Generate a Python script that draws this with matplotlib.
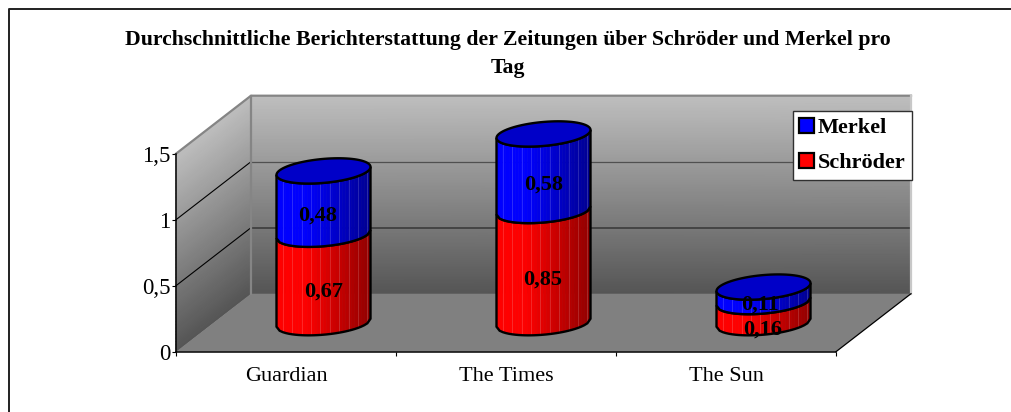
"""Durchschnittliche Berichterstattung, gestapelte Zylinder in Pseudo-3D"""

import matplotlib
matplotlib.use('Agg')
import matplotlib.pyplot as plt
import numpy as np
from matplotlib.lines import Line2D
from matplotlib.patches import Patch, Polygon

plt.rcParams['font.family'] = ['Liberation Serif', 'DejaVu Serif']

categories = ['Guardian', 'The Times', 'The Sun']
schroeder = [0.67, 0.85, 0.16]
merkel = [0.48, 0.58, 0.11]
schroeder_labels = ['0,67', '0,85', '0,16']
merkel_labels = ['0,48', '0,58', '0,11']
y_ticks = [0, 0.5, 1, 1.5]
y_tick_labels = ['0', '0,5', '1', '1,5']
title = ('Durchschnittliche Berichterstattung der Zeitungen über Schröder '
	'und Merkel pro\nTag')

W, H = 1011, 412
DX = 75 / 220  # Tiefe in Datenkoordinaten
DY = 58 / 132
RX = 47 / 220  # Radius der Zylinder
RY = 12 / 132
SHEAR = 4 / 132
YMAX = 1.5


def draw_walls(ax):
	gray = matplotlib.colormaps['gray']
	v = np.linspace(0, 1, 60)
	shade = 85 + (190 - 85) * v
	c = np.vstack([shade, shade]).T / 255

	# Rueckwand
	X, Y = np.meshgrid([DX, 3 + DX], DY + v * YMAX)
	ax.pcolormesh(X, Y, c, cmap=gray, vmin=0, vmax=1, shading='gouraud', zorder=1, clip_on=False)
	# Seitenwand links
	X = np.array([np.zeros_like(v), np.full_like(v, DX)]).T
	Y = np.array([v * YMAX, DY + v * YMAX]).T
	ax.pcolormesh(X, Y, c, cmap=gray, vmin=0, vmax=1, shading='gouraud', zorder=1, clip_on=False)
	# Boden
	ax.add_patch(Polygon([(0, 0), (3, 0), (3 + DX, DY), (DX, DY)], closed=True,
		facecolor='#808080', edgecolor='none', zorder=2, clip_on=False))

	# Gitterlinien
	for val, col, lw in [(0.5, '#404040', 1.3), (1, '#505050', 0.9)]:
		ax.plot([0, DX], [val, val + DY], color='k', lw=0.8, zorder=3, clip_on=False)
		ax.plot([DX, 3 + DX], [val + DY, val + DY], color=col, lw=lw, zorder=3, clip_on=False)

	# Rahmen der Waende
	ax.plot([0, DX, 3 + DX], [YMAX, YMAX + DY, YMAX + DY], color='#858585',
		lw=1.6, zorder=3, clip_on=False)
	ax.plot([3 + DX, 3 + DX], [YMAX + DY, DY], color='#c8c8c8', lw=1.6, zorder=3, clip_on=False)
	ax.plot([DX, DX], [DY, YMAX + DY], color='#858585', lw=1.6, zorder=3, clip_on=False)
	ax.plot([3, 3 + DX], [0, DY], color='k', lw=0.9, zorder=3, clip_on=False)


def ellipse(cx, cy, t):
	return cx + RX * np.cos(t), cy + SHEAR * np.cos(t) + RY * np.sin(t)


def draw_segment(ax, cx, y0, y1, rgb, top_col, z):
	"""Ein Zylinderstueck von y0 bis y1, links hell, rechts dunkel"""
	t = np.pi + np.arccos(np.linspace(1, -1, 31))
	xb, yb = ellipse(cx, y0, t)
	xt, yt = ellipse(cx, y1, t)
	for i in range(len(t) - 1):
		k = i / (len(t) - 2)
		f = 1 if k < 0.3 else 1 - 0.42 * (k - 0.3) / 0.7
		col = (rgb[0] * f, rgb[1] * f, rgb[2] * f)
		ax.fill([xb[i], xb[i + 1], xt[i + 1], xt[i]], [yb[i], yb[i + 1], yt[i + 1], yt[i]],
			facecolor=col, edgecolor=col, lw=0.4, zorder=z, clip_on=False)
		if i % 3 == 2:
			ax.plot([xb[i], xt[i]], [yb[i], yt[i]], color='w', alpha=0.18, lw=0.6,
				zorder=z + 0.01, clip_on=False)
	outline = np.r_[xb, xt[::-1]], np.r_[yb, yt[::-1]]
	ax.add_patch(Polygon(np.c_[outline], closed=True, fill=False, edgecolor='k', lw=1.7,
		zorder=z + 0.1, clip_on=False))
	if top_col is not None:
		tt = np.linspace(0, 2 * np.pi, 90)
		xe, ye = ellipse(cx, y1, tt)
		ax.add_patch(Polygon(np.c_[xe, ye], closed=True, facecolor=top_col, edgecolor='k',
			lw=1.7, zorder=z + 0.2, clip_on=False))


fig = plt.figure(figsize=(W / 100, H / 100), dpi=100, facecolor='white')
fig.add_artist(Line2D([9 / W, 9 / W, 1], [0, 1 - 9 / H, 1 - 9 / H], transform=fig.transFigure,
	color='#202020', lw=1.4))
fig.text(508 / W, 1 - 54 / H, title, ha='center', va='center', fontsize=15.7, fontweight='bold',
	linespacing=1.52)

ax = fig.add_axes([176 / W, (H - 351.7) / H, 660 / W, 198 / H])
ax.set_xlim(0, 3)
ax.set_ylim(0, YMAX)
ax.patch.set_visible(False)
for s in ['top', 'right']:
	ax.spines[s].set_visible(False)
for s in ['left', 'bottom']:
	ax.spines[s].set_linewidth(1.1)
	ax.spines[s].set_zorder(6)

ax.set_yticks(y_ticks)
ax.set_yticklabels(y_tick_labels, fontsize=16.5)
ax.set_xticks(range(4))
ax.set_xticklabels([])
ax.set_xticks(np.arange(3) + 0.5, labels=categories, minor=True, fontsize=16)
ax.tick_params(axis='x', which='minor', length=0, pad=11)
ax.tick_params(axis='both', which='major', length=3, width=0.8, pad=1)

draw_walls(ax)

label_offsets_s = [(0, -13.5), (-1, -12.5), (-1, -17)]
label_offsets_m = [(-6, -13.5), (0, -12.5), (-4, -10)]
base = DY / 2
for i in range(3):
	cx = i + 0.5 + DX / 2
	top_s = base + schroeder[i]
	top_m = top_s + merkel[i]
	draw_segment(ax, cx, base, top_s, (1, 0, 0), None, 4 + i)
	draw_segment(ax, cx, top_s, top_m, (0, 0, 1), '#0000c8', 4.3 + i)
	for val0, val1, txt, off in [(base, top_s, schroeder_labels[i], label_offsets_s[i]),
			(top_s, top_m, merkel_labels[i], label_offsets_m[i])]:
		ax.annotate(txt, (cx, (val0 + val1) / 2), xytext=off, textcoords='offset pixels',
			ha='center', va='center', fontsize=16, fontweight='bold', color='k', zorder=9)

handles = [Patch(facecolor='#0000ff', edgecolor='k', lw=1.6, label='Merkel'),
	Patch(facecolor='#ff0000', edgecolor='k', lw=1.6, label='Schröder')]
leg = ax.legend(handles=handles, loc='upper left', bbox_to_anchor=(792.5 / W, 1 - 111 / H),
	bbox_transform=fig.transFigure, fancybox=False, framealpha=1, edgecolor='#303030',
	prop={'weight': 'bold', 'size': 16}, handlelength=0.68, handleheight=0.68,
	handletextpad=0.15, borderpad=0.3, labelspacing=0.67, borderaxespad=0)
leg.set_zorder(10)
leg.get_frame().set_linewidth(1.0)

fig.savefig('out.png', dpi=100)
